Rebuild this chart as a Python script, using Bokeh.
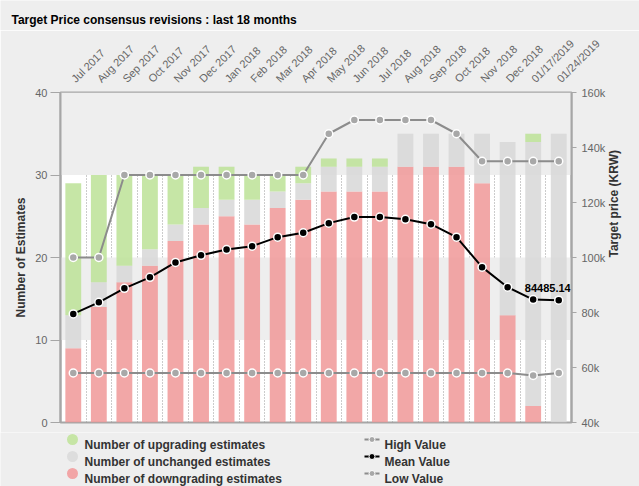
import math
from bokeh.plotting import figure
from bokeh.layouts import column
from bokeh.models import (Range1d, LinearAxis, FixedTicker, ColumnDataSource, NumeralTickFormatter)
from bokeh.core.properties import value
from bokeh.embed import file_html
from bokeh.resources import INLINE

title_text = "Target Price consensus revisions : last 18 months"
categories = ["Jul 2017", "Aug 2017", "Sep 2017", "Oct 2017", "Nov 2017", "Dec 2017",
              "Jan 2018", "Feb 2018", "Mar 2018", "Apr 2018", "May 2018", "Jun 2018",
              "Jul 2018", "Aug 2018", "Sep 2018", "Oct 2018", "Nov 2018", "Dec 2018",
              "01/17/2019", "01/24/2019"]
downgrading = [9, 14, 17, 19, 22, 24, 25, 24, 26, 27, 28, 28, 28, 31, 31, 31, 29, 13, 2, 0]
unchanged = [4, 3, 2, 2, 2, 2, 2, 3, 2, 2, 3, 3, 3, 4, 4, 4, 6, 21, 32, 35]
upgrading = [16, 13, 11, 9, 6, 5, 4, 3, 2, 2, 1, 1, 1, 0, 0, 0, 0, 0, 1, 0]
high_value = [100000, 100000, 130000, 130000, 130000, 130000, 130000, 130000, 130000, 130000,
              145000, 150000, 150000, 150000, 150000, 145000, 135000, 135000, 135000, 135000]
mean_value = [79500, 83700, 88800, 92800, 98200, 100800, 102900, 104100, 107400, 109000,
              112500, 114700, 114700, 113900, 112100, 107400, 96500, 89200, 84700, 84485.14]
low_value = [58000, 58000, 58000, 58000, 58000, 58000, 58000, 58000, 58000, 58000,
             58000, 58000, 58000, 58000, 58000, 58000, 58000, 58000, 57100, 58000]
left_ticks = [0, 10, 20, 30, 40]
right_ticks = [40000, 60000, 80000, 100000, 120000, 140000, 160000]
bar_legend = ["Number of upgrading estimates", "Number of unchanged estimates",
              "Number of downgrading estimates"]
line_legend = ["High Value", "Mean Value", "Low Value"]

FONT = "Liberation Sans"
RED = "#f09898"
GREYB = "#d7d7d7"
GREEN = "#bce296"
RED_S = "#f2a5a6"
GREY_S = "#dddddd"
GREEN_S = "#c6e5a5"
LINE_GREY = "#8c8c8c"
MARK_GREY = "#a8a8a8"
AXIS_GREY = "#a6a6a6"
BG = "#eeeeee"

W = 639
TITLE_H = 30
LEG_H = 54
MAIN_H = 486 - TITLE_H - LEG_H


def strip(h):
    f = figure(width=W, height=h, x_range=Range1d(0, W), y_range=Range1d(h, 0),
               output_backend="svg", toolbar_location=None, min_border=0,
               x_axis_type=None, y_axis_type=None)
    f.outline_line_color = None
    f.background_fill_color = BG
    f.border_fill_color = BG
    try:
        f.frame_align = False
    except Exception:
        pass
    return f


# ---------- title strip ----------
tf = strip(TITLE_H)
tf.text(x=[11], y=[19], text=[title_text], text_font=value(FONT), text_font_size="12px",
        text_font_style="bold", text_color="black", text_align="left",
        text_baseline="alphabetic")

# ---------- main chart ----------
xs = list(range(len(categories)))
src = ColumnDataSource(dict(x=xs, down=downgrading, unch=unchanged, up=upgrading,
                            high=high_value, mean=mean_value, low=low_value))

p = figure(width=W, height=MAIN_H, x_range=Range1d(-0.5, len(categories) - 0.5),
           y_range=Range1d(0, 40), x_axis_location="above",
           output_backend="svg", toolbar_location=None,
           min_border_left=60, min_border_right=68, min_border_top=92 - TITLE_H,
           min_border_bottom=MAIN_H - (422 - TITLE_H) - 0)
p.extra_y_ranges = {"price": Range1d(40000, 160000)}
p.background_fill_color = "white"
p.border_fill_color = BG
p.outline_line_color = AXIS_GREY
p.outline_line_width = 2
try:
    p.frame_align = False
except Exception:
    pass

xa = p.xaxis[0]
xa.ticker = FixedTicker(ticks=xs)
xa.major_label_overrides = {i: c for i, c in enumerate(categories)}
xa.major_label_orientation = math.pi / 4
xa.axis_line_color = None
xa.major_tick_line_color = None
xa.minor_tick_line_color = None
xa.major_label_text_font = FONT
xa.major_label_text_font_size = "11px"
xa.major_label_text_color = "#666666"
xa.major_label_standoff = 6

ya = p.yaxis[0]
ya.ticker = FixedTicker(ticks=left_ticks)
ya.axis_line_color = AXIS_GREY
ya.axis_line_width = 2
ya.major_tick_line_color = AXIS_GREY
ya.major_tick_out = 10
ya.major_tick_in = 0
ya.minor_tick_line_color = None
ya.major_label_text_font = FONT
ya.major_label_text_font_size = "11px"
ya.major_label_text_color = "#666666"
ya.major_label_standoff = 3
ya.axis_label = "Number of Estimates"
ya.axis_label_text_font = FONT
ya.axis_label_text_font_size = "12px"
ya.axis_label_text_font_style = "bold"
ya.axis_label_text_color = "#333333"
ya.axis_label_standoff = 4

ra = LinearAxis(y_range_name="price", ticker=FixedTicker(ticks=right_ticks),
                formatter=NumeralTickFormatter(format="0a"))
ra.axis_line_color = AXIS_GREY
ra.axis_line_width = 2
ra.major_tick_line_color = AXIS_GREY
ra.major_tick_out = 5
ra.major_tick_in = 0
ra.minor_tick_line_color = None
ra.major_label_text_font = FONT
ra.major_label_text_font_size = "11px"
ra.major_label_text_color = "#666666"
ra.major_label_standoff = 5
ra.axis_label = "Target price (KRW)"
ra.axis_label_text_font = FONT
ra.axis_label_text_font_size = "12px"
ra.axis_label_text_font_style = "bold"
ra.axis_label_text_color = "#333333"
ra.axis_label_standoff = 6
try:
    ra.axis_label_orientation = math.pi / 2
except Exception:
    pass
p.add_layout(ra, "right")

p.xgrid.ticker = FixedTicker(ticks=[i + 0.5 for i in range(len(categories) - 1)])
p.xgrid.grid_line_color = "#999999"
p.xgrid.grid_line_dash = "1 2"
p.xgrid.grid_line_width = 1
p.ygrid.ticker = FixedTicker(ticks=left_ticks)
p.ygrid.grid_line_color = None
p.ygrid.band_fill_color = BG
p.ygrid.band_fill_alpha = 1

p.vbar_stack(["down", "unch", "up"], x="x", width=0.62, source=src,
             fill_color=[RED, GREYB, GREEN], fill_alpha=0.85, line_color=None)

series = [("high", LINE_GREY, MARK_GREY), ("mean", "black", "black"), ("low", LINE_GREY, MARK_GREY)]
for col, lc, fc in series:
    p.line("x", col, source=src, y_range_name="price", line_color=lc, line_width=2)
    p.scatter("x", col, source=src, y_range_name="price", size=8, fill_color=fc,
              line_color="white", line_width=1.5)

last = len(xs) - 1
lbl_src = ColumnDataSource(dict(x=[xs[last]], y=[mean_value[last]], t=[f"{mean_value[last]:.2f}"]))
p.text(x="x", y="y", text="t", source=lbl_src, y_range_name="price", x_offset=12, y_offset=-12,
       text_align="right", text_baseline="middle", text_font=value(FONT),
       text_font_size="11px", text_font_style="bold", text_color="black")

# ---------- legend strip ----------
lg = strip(LEG_H)
top = 486 - LEG_H
row_mid = [439 - top, 456 - top, 473 - top]
row_base = [444 - top, 461 - top, 478 - top]
lg.scatter(x=[72] * 3, y=row_mid, size=11, fill_color=[GREEN_S, GREY_S, RED_S], line_color=None)
lg.text(x=[84] * 3, y=row_base, text=bar_legend, text_font=value(FONT), text_font_size="12px",
        text_font_style="bold", text_color="#333333", text_align="left",
        text_baseline="alphabetic")
sym_line = [LINE_GREY, "black", LINE_GREY]
sym_fill = [MARK_GREY, "black", MARK_GREY]
lg.segment(x0=[364] * 3, x1=[379] * 3, y0=row_mid, y1=row_mid, line_color=sym_line, line_width=2)
lg.scatter(x=[371.5] * 3, y=row_mid, size=6, fill_color=sym_fill, line_color="white", line_width=1)
lg.text(x=[384] * 3, y=row_base, text=line_legend, text_font=value(FONT), text_font_size="12px",
        text_font_style="bold", text_color="#333333", text_align="left",
        text_baseline="alphabetic")

layout = column(tf, p, lg, spacing=0)
open("out.html", "w").write(file_html(layout, INLINE))
